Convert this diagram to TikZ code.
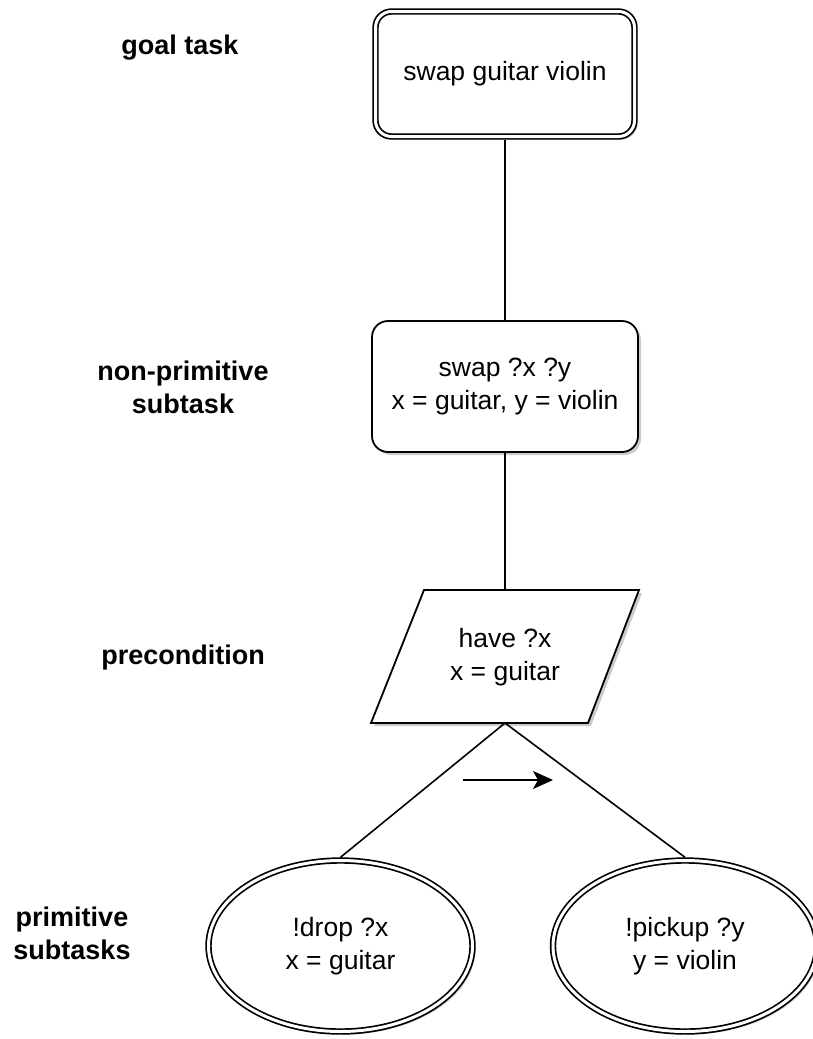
\documentclass[tikz,border=0pt]{standalone}
\usepackage{fontspec}
\setmainfont{Liberation Sans}
\usetikzlibrary{shapes.geometric,shadows,arrows.meta}
\begin{document}
\begin{tikzpicture}[x=1pt,y=-1pt,
  every node/.style={font=\fontsize{26.5}{33}\selectfont, align=center},
  shade/.style={drop shadow={shadow xshift=3pt, shadow yshift=-3pt, fill=black!45, opacity=0.45}},
  dbl/.style={draw, fill=white, line width=1.7pt, double=white, double distance=3pt, outer sep=3.2pt},
  single/.style={draw, line width=1.8pt, fill=white},
  goalbox/.style={dbl, shade, rounded corners=16pt, minimum width=259pt, minimum height=125pt},
  subbox/.style={single, shade, rounded corners=16pt, minimum width=266pt, minimum height=131pt},
  primnode/.style={dbl, shade, ellipse, minimum width=264pt, minimum height=171pt, inner sep=0pt},
  rowlabel/.style={font=\bfseries\fontsize{27}{33}\selectfont},
  link/.style={line width=1.6pt}
]
\useasboundingbox (0,0) rectangle (813,1039);

% tree nodes
\node[goalbox] (goal) at (505,74) {swap guitar violin};
\node[subbox] (swap) at (505,386.5) {swap ?x ?y\\x = guitar, y = violin};

% precondition parallelogram
\coordinate (pBL) at (371,723);
\coordinate (pTL) at (424,590);
\coordinate (pTR) at (639,590);
\coordinate (pBR) at (588,723);
\coordinate (preTop) at (505,590);
\coordinate (preApex) at (505,723);
\draw[single, shade, line join=miter] (pBL) -- (pTL) -- (pTR) -- (pBR) -- cycle;
\node (pre) at (505,657) {have ?x\\x = guitar};

\node[primnode] (drop) at (340.5,946) {!drop ?x\\x = guitar};
\node[primnode] (pickup) at (685,946) {!pickup ?y\\y = violin};

% connectors
\draw[link] (goal.south) -- (swap.north);
\draw[link] (swap.south) -- (preTop);
\draw[link] (preApex) -- (drop.north);
\draw[link] (preApex) -- (pickup.north);

% ordering arrow
\coordinate (ordA) at (463,780);
\coordinate (ordB) at (553,780);
\draw[line width=2pt, -{Stealth[length=20pt,width=18pt,inset=5pt]}] (ordA) -- (ordB);

% row labels
\node[rowlabel] (lgoal) at (180,48) {goal task};
\node[rowlabel] (lnon) at (183,387) {non-primitive\\subtask};
\node[rowlabel] (lpre) at (183,658) {precondition};
\node[rowlabel] (lprim) at (72,933) {primitive\\subtasks};
\end{tikzpicture}
\end{document}
